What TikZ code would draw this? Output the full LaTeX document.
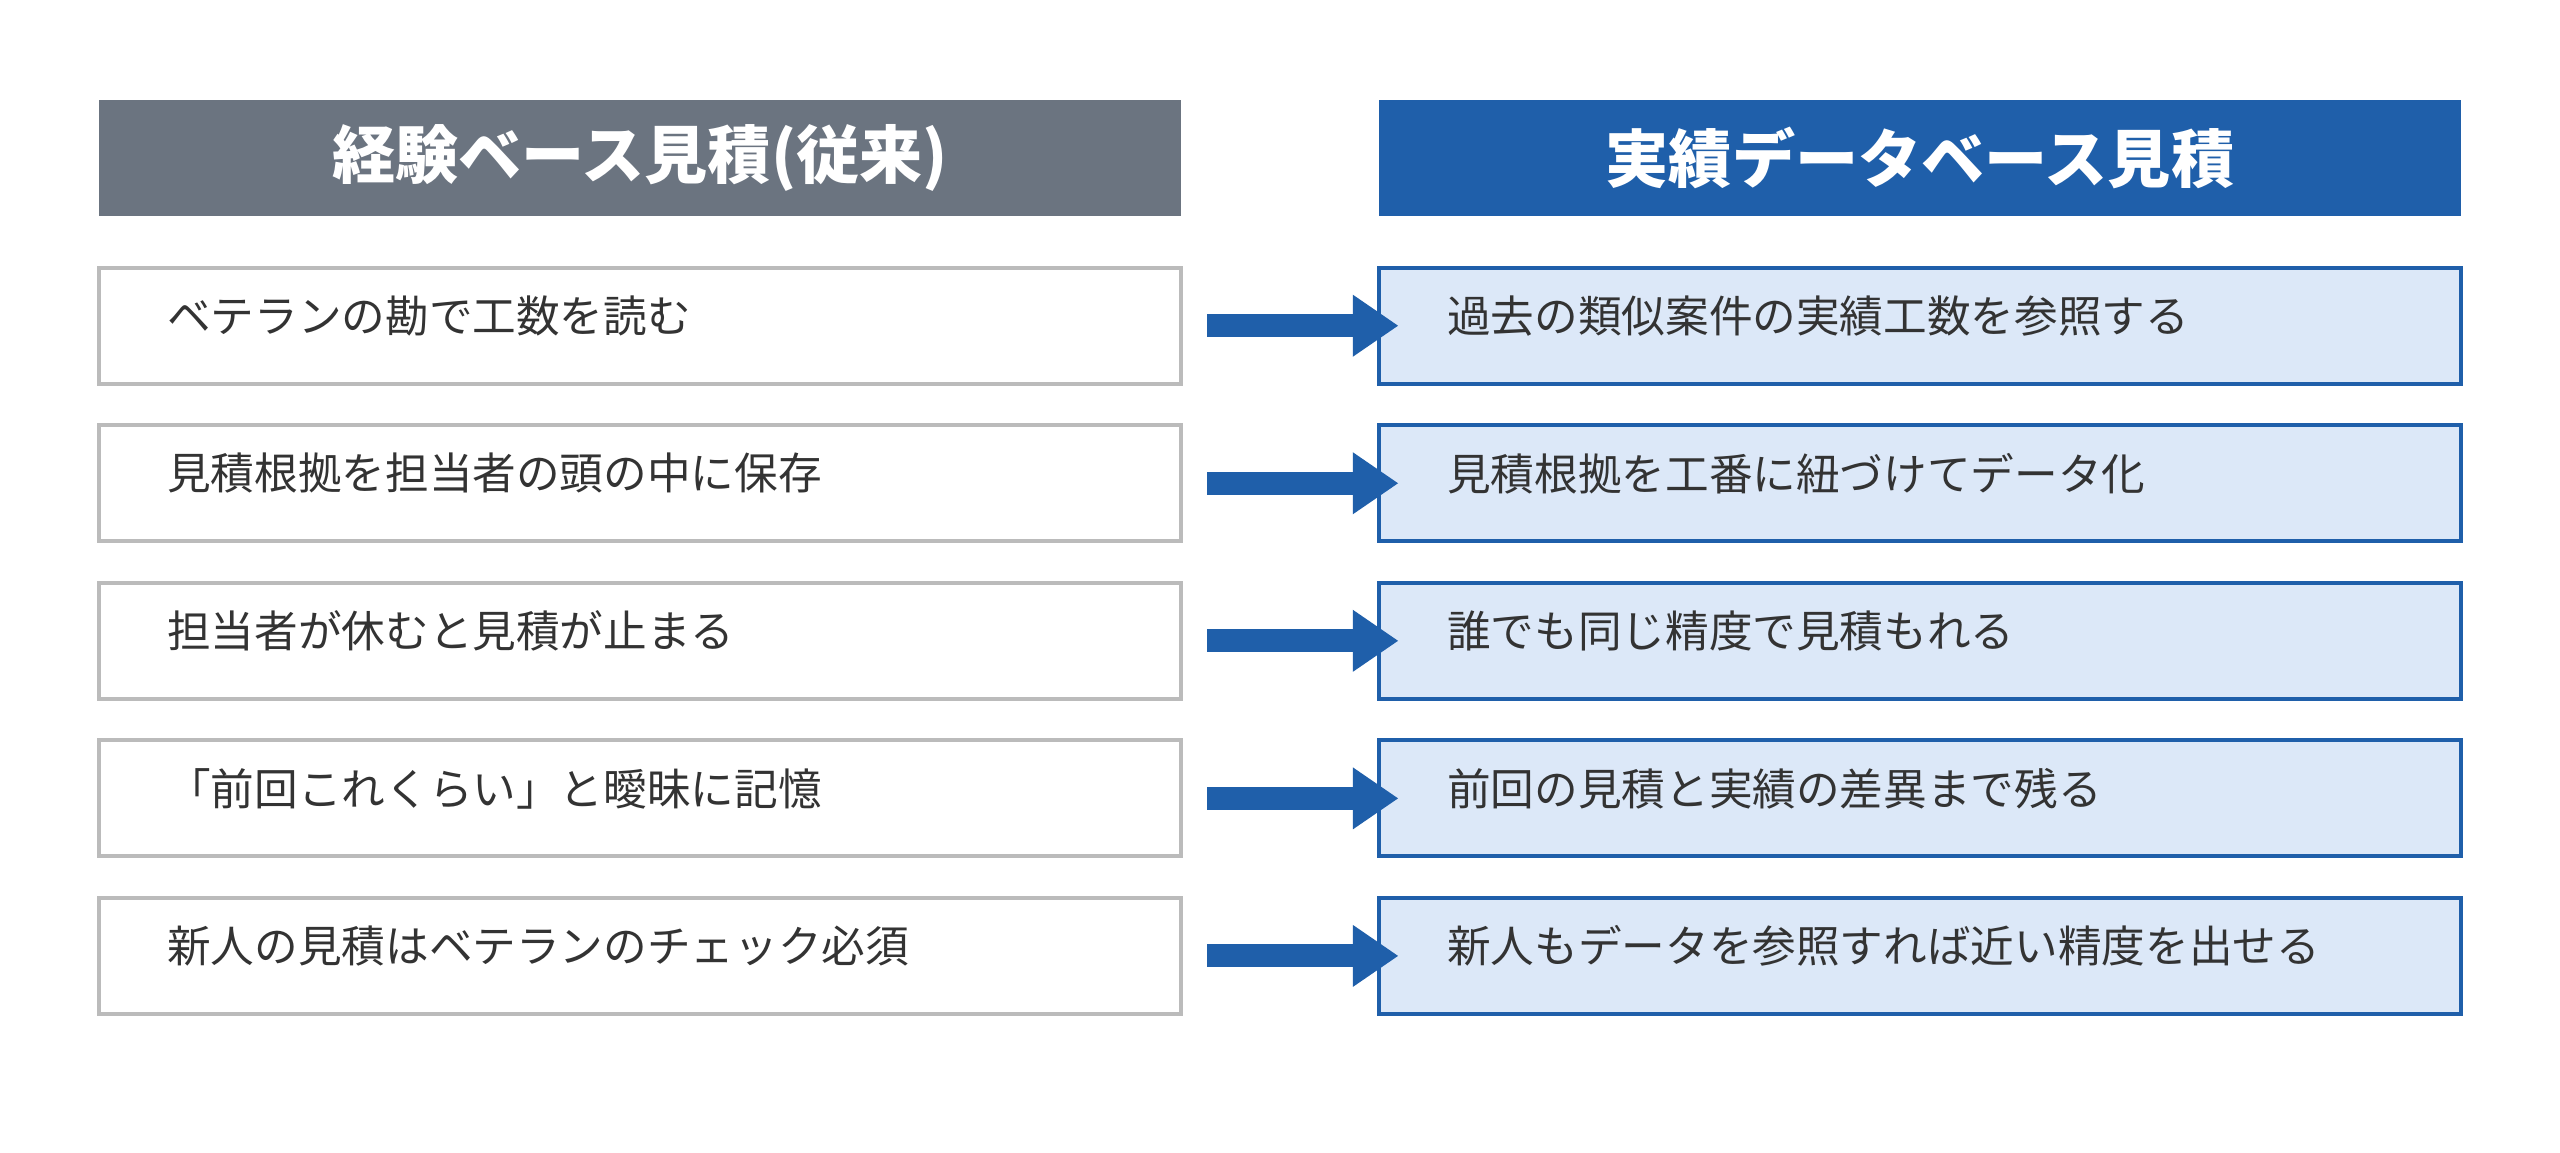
\documentclass[tikz,border=0pt]{standalone}
\usepackage{fontspec}
\setmainfont{Noto Sans CJK JP}
\usetikzlibrary{arrows.meta}
\definecolor{headgray}{HTML}{6B7480}
\definecolor{headblue}{HTML}{1F5FAA}
\definecolor{cellblue}{HTML}{DCE8F8}
\definecolor{cellgray}{HTML}{BBBBBB}
\definecolor{textdark}{HTML}{333333}

\tikzset{
  head/.style={minimum width=6.62cm, minimum height=0.71cm, inner sep=0pt,
    text=white, font=\fontsize{11}{13}\selectfont\bfseries},
  cell/.style={draw, line width=0.7pt, minimum width=6.62cm, minimum height=0.71cm,
    inner sep=0pt, text=textdark, font=\fontsize{7.6}{9}\selectfont},
  oldcell/.style={cell, draw=cellgray, fill=white},
  newcell/.style={cell, draw=headblue, fill=cellblue},
  goto/.style={headblue, line width=0.14cm, -{Triangle[length=0.28cm,width=0.36cm]},
    shorten <=0.15cm, shorten >=-0.13cm}
}

\begin{document}
\begin{tikzpicture}[x=0.01cm, y=-0.01cm]
    \useasboundingbox[fill=white] (0,0) rectangle (1568,706);

    \node[head, fill=headgray] (oldhead) at (392,96.5) {経験ベース見積(従来)};
    \node[head, fill=headblue] (newhead) at (1176,96.5) {実績データベース見積};

    \foreach \i/\y/\old/\new in {
        1/199.5/ベテランの勘で工数を読む/過去の類似案件の実績工数を参照する,
        2/296/見積根拠を担当者の頭の中に保存/見積根拠を工番に紐づけてデータ化,
        3/392.5/担当者が休むと見積が止まる/誰でも同じ精度で見積もれる,
        4/489/「前回これくらい」と曖昧に記憶/前回の見積と実績の差異まで残る,
        5/585.5/新人の見積はベテランのチェック必須/新人もデータを参照すれば近い精度を出せる}
    {
      \node[oldcell] (old\i) at (392,\y) {};
      \node[anchor=west, text=textdark, font=\fontsize{7.6}{9}\selectfont]
        (oldtext\i) at (90,\y-6) {\old};
      \node[newcell] (new\i) at (1176,\y) {};
      \node[anchor=west, text=textdark, font=\fontsize{7.6}{9}\selectfont]
        (newtext\i) at (874,\y-6) {\new};
      \draw[goto] (old\i.east) -- (new\i.west);
    }
\end{tikzpicture}
\end{document}
